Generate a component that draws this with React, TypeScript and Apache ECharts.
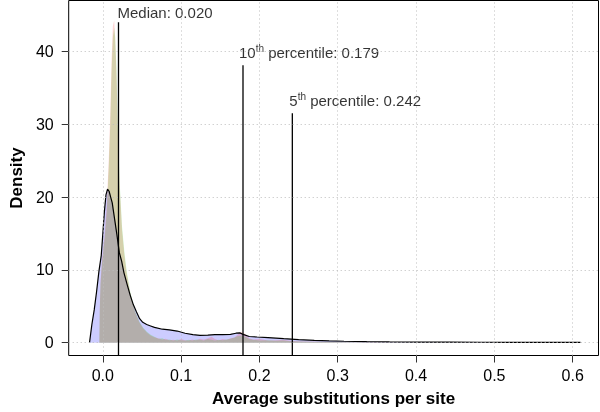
import React, { useEffect, useRef } from 'react';
import * as echarts from 'echarts';

const xTicks = [0, 0.1, 0.2, 0.3, 0.4, 0.5, 0.6];
const yTicks = [0, 10, 20, 30, 40];

// smooth density (blue fill, black outline)
const blueX = [-0.017, -0.014, -0.011, -0.008, -0.005, -0.002, 0.0, 0.002, 0.004, 0.006,
  0.008, 0.01, 0.012, 0.015, 0.018, 0.021, 0.024, 0.027, 0.031, 0.035,
  0.039, 0.043, 0.047, 0.051, 0.056, 0.061, 0.066, 0.076, 0.085, 0.095,
  0.105, 0.115, 0.124, 0.134, 0.143, 0.153, 0.163, 0.17, 0.175, 0.18,
  0.187, 0.197, 0.211, 0.231, 0.25, 0.27, 0.289, 0.308, 0.337, 0.366,
  0.405, 0.443, 0.482, 0.53, 0.61];
const blueY = [0, 2.5, 4.5, 7, 9.8, 12, 15, 18, 20.3, 21.1,
  20.8, 20, 19.2, 17, 14.8, 12.4, 11.2, 9.6, 8, 6.5,
  5.2, 4.2, 3.3, 2.8, 2.5, 2.3, 2.1, 1.85, 1.75, 1.6,
  1.3, 1.1, 1.0, 1.05, 1.1, 1.1, 1.15, 1.3, 1.35, 1.1,
  0.85, 0.78, 0.7, 0.55, 0.42, 0.33, 0.25, 0.2, 0.14, 0.1,
  0.08, 0.07, 0.06, 0.05, 0.04];

// peaked densities (red and green fills)
const peakX = [-0.0045, -0.004, -0.003, -0.001, 0.002, 0.005, 0.0075, 0.0095, 0.0112, 0.0128,
  0.0145, 0.0158, 0.0175, 0.0192, 0.0215, 0.0245, 0.0275, 0.0305, 0.035, 0.041,
  0.0466, 0.0514, 0.0563, 0.0611, 0.066, 0.071, 0.076, 0.08, 0.085, 0.09,
  0.095, 0.1, 0.105, 0.11, 0.114, 0.119, 0.124, 0.129, 0.134, 0.139,
  0.143, 0.148, 0.153, 0.158, 0.163, 0.168, 0.172, 0.177, 0.182, 0.187,
  0.192, 0.201, 0.211, 0.221, 0.23, 0.24, 0.25, 0.269, 0.289, 0.318,
  0.347, 0.385, 0.434, 0.482];
const redY = [0, 4.5, 8.5, 11.5, 14.5, 19, 25, 31.5, 39, 43.5,
  44.3, 41.5, 36.5, 29, 21.5, 15.5, 12, 9.5, 6.8, 4.3,
  2.8, 2.0, 1.4, 1.0, 0.75, 0.6, 0.45, 0.55, 0.35, 0.4,
  0.3, 0.5, 0.35, 0.3, 0.45, 0.35, 0.55, 0.45, 0.6, 0.8,
  0.5, 0.35, 0.5, 0.4, 0.6, 0.7, 1.1, 1.5, 1.2, 0.6,
  0.45, 0.5, 0.3, 0.35, 0.4, 0.25, 0.2, 0.15, 0.1, 0.07,
  0.05, 0.03, 0.01, 0];
const greenY = [0, 4, 8, 11, 14, 18, 24, 30, 37.5, 42,
  43.3, 42, 37.5, 30, 22, 16, 12.5, 9.8, 7, 4.4,
  2.9, 2.1, 1.5, 1.1, 0.8, 0.55, 0.6, 0.4, 0.45, 0.3,
  0.45, 0.35, 0.3, 0.4, 0.3, 0.45, 0.4, 0.3, 0.5, 0.4,
  0.3, 0.4, 0.35, 0.45, 0.55, 0.7, 0.9, 1.0, 0.8, 0.5,
  0.4, 0.3, 0.35, 0.25, 0.3, 0.2, 0.18, 0.12, 0.1, 0.06,
  0.04, 0.02, 0.01, 0];

const markerValues = [0.02, 0.179, 0.242];
const markerTops = [44.0, 38.1, 31.5];
const markerLabels = [
  'Median: 0.020',
  '{t|10}{s|th}{t| percentile: 0.179}',
  '{t|5}{s|th}{t| percentile: 0.242}',
];

const X_MIN = -0.0436;
const X_MAX = 0.633;
const Y_MIN = -1.76;
const Y_MAX = 47;

const FONT = '"Liberation Sans", Arial, Helvetica, sans-serif';
const labelOffsets = [[-1, -10], [-4, -13], [-3, -13]];

const zip = (xs: number[], ys: number[]) => xs.map((x, i) => [x, ys[i]]);

export default function App() {
  const ref = useRef<HTMLDivElement>(null);
  useEffect(() => {
    if (!ref.current) return;
    const chart = echarts.init(ref.current, null, { renderer: 'svg' });
    const areaBase = { type: 'line', symbol: 'none', smooth: false, lineStyle: { width: 0, opacity: 0 }, silent: true };
    chart.setOption({
      animation: false,
      textStyle: { fontFamily: FONT },
      grid: { left: 68.5, right: 1.5, top: 0.5, bottom: 56.5, show: true, borderColor: '#000', borderWidth: 1 },
      xAxis: {
        type: 'value', min: X_MIN, max: X_MAX,
        axisLine: { show: false, onZero: false },
        splitLine: { show: false },
        axisTick: { show: true, customValues: xTicks, length: 7, lineStyle: { color: '#333' } },
        axisLabel: { customValues: xTicks, formatter: (v: number) => v.toFixed(1), fontSize: 16, color: '#000', margin: 12, fontFamily: FONT },
        name: 'Average substitutions per site', nameLocation: 'middle', nameGap: 34,
        nameTextStyle: { fontSize: 17, fontWeight: 'bold', color: '#000', fontFamily: FONT },
      },
      yAxis: {
        type: 'value', min: Y_MIN, max: Y_MAX,
        axisLine: { show: false, onZero: false },
        splitLine: { show: false },
        axisTick: { show: true, customValues: yTicks, length: 7, lineStyle: { color: '#333' } },
        axisLabel: { customValues: yTicks, formatter: (v: number) => String(Math.round(v)), fontSize: 16, color: '#000', margin: 15, fontFamily: FONT },
        name: 'Density', nameLocation: 'middle', nameGap: 42,
        nameTextStyle: { fontSize: 17, fontWeight: 'bold', color: '#000', fontFamily: FONT },
      },
      series: [
        {
          type: 'line', data: [], silent: true,
          markLine: {
            silent: true, symbol: ['none', 'none'], label: { show: false }, animation: false,
            lineStyle: { color: '#bdbdbd', type: [1, 3], width: 1 },
            data: [...xTicks.map((v) => ({ xAxis: v })), ...yTicks.map((v) => ({ yAxis: v }))],
          },
        },
        { ...areaBase, data: zip(blueX, blueY), areaStyle: { color: 'rgba(0,0,255,0.2)', opacity: 1 } },
        { ...areaBase, data: zip(peakX, greenY), areaStyle: { color: 'rgba(0,215,0,0.2)', opacity: 1 } },
        { ...areaBase, data: zip(peakX, redY), areaStyle: { color: 'rgba(255,0,0,0.16)', opacity: 1 } },
        { type: 'line', symbol: 'none', silent: true, data: zip(blueX, blueY), lineStyle: { color: '#000', width: 1.2 } },
        ...markerValues.map((v, i) => ({
          type: 'line', symbol: 'none', silent: true,
          data: [[v, Y_MIN], [v, markerTops[i]]],
          lineStyle: { color: '#000', width: 1.3 },
        })),
        {
          type: 'scatter', symbolSize: 0, silent: true,
          data: markerValues.map((v, i) => ({
            value: [v, markerTops[i]],
            label: { position: labelOffsets[i] },
          })),
          label: {
            show: true, align: 'left', verticalAlign: 'middle', color: '#000', fontSize: 15, fontFamily: FONT,
            formatter: (p: any) => markerLabels[p.dataIndex],
            rich: {
              t: { fontSize: 15, color: '#000', fontFamily: FONT },
              s: { fontSize: 10, color: '#000', fontFamily: FONT, padding: [0, 0, 8, 0] },
            },
          },
        },
      ],
    });
    return () => chart.dispose();
  }, []);
  return <div ref={ref} style={{ position: 'fixed', left: 0, top: 0, width: 600, height: 412 }} />;
}
